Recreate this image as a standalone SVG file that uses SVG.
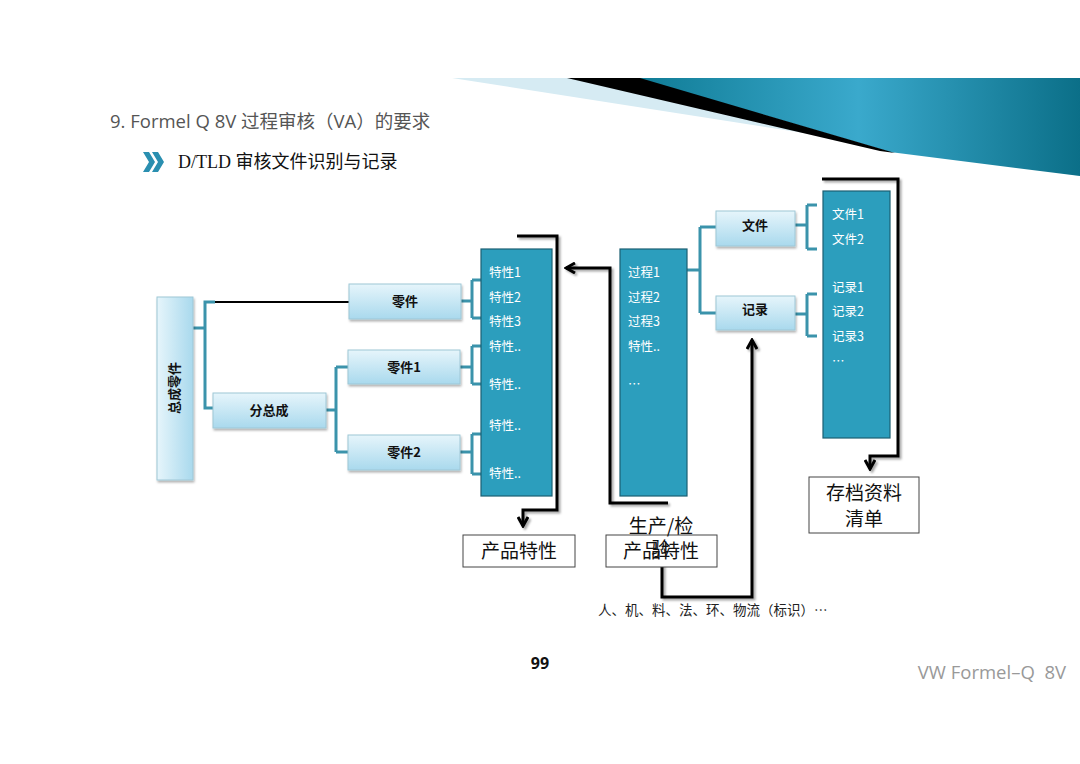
<svg xmlns="http://www.w3.org/2000/svg" width="1080" height="764" viewBox="0 0 1080 764">
<defs>
<linearGradient id="lb" x1="0" y1="0" x2="0" y2="1"><stop offset="0" stop-color="#e6f5fb"/><stop offset="1" stop-color="#a9d9ed"/></linearGradient>
<linearGradient id="lbh" x1="0" y1="0" x2="1" y2="0"><stop offset="0" stop-color="#e6f5fb"/><stop offset="1" stop-color="#a9d9ed"/></linearGradient>
<linearGradient id="teal" x1="0" y1="0" x2="1" y2="0"><stop offset="0" stop-color="#0f7b95"/><stop offset="0.5" stop-color="#3aa9cc"/><stop offset="1" stop-color="#0b6f88"/></linearGradient>
<marker id="ah" viewBox="0 0 12 12" refX="10" refY="6" markerWidth="12" markerHeight="12" markerUnits="userSpaceOnUse" orient="auto">
<path d="M1,1 L10,6 L1,11" fill="none" stroke="#000" stroke-width="3"/>
</marker>
<filter id="sh" x="-10%" y="-10%" width="130%" height="140%"><feDropShadow dx="1" dy="2" stdDeviation="1.2" flood-color="#000" flood-opacity="0.3"/></filter>
<filter id="lsh" x="-10%" y="-10%" width="130%" height="130%"><feDropShadow dx="2" dy="2" stdDeviation="0.8" flood-color="#000" flood-opacity="0.35"/></filter>
</defs>
<style>
.cn{font-family:"Noto Sans CJK SC",sans-serif}
.bx{fill:url(#lb);stroke:#9ec7d6;stroke-width:1;filter:url(#sh)}
.bt{font-family:"Noto Sans CJK SC",sans-serif;font-size:13px;font-weight:bold;fill:#111;text-anchor:middle}
.col{fill:#2c9ebd;stroke:#1c5f72;stroke-width:1.2}
.ct{font-family:"Noto Sans CJK SC",sans-serif;font-size:12.5px;fill:#fff}
.tc{fill:none;stroke:#3b93ab;stroke-width:3}
.bk{fill:none;stroke:#000;stroke-width:3;filter:url(#lsh)}
.ob{fill:#fff;stroke:#444;stroke-width:1}
.ot{font-family:"Noto Sans CJK SC",sans-serif;font-size:19px;fill:#111;text-anchor:middle}
</style>
<rect width="1080" height="764" fill="#fff"/>
<g id="banner">
<polygon points="452,78 1080,78 1080,176" fill="#d6ebf3"/>
<polygon points="637,78 1080,78 1080,176 890,152" fill="url(#teal)"/>
<polygon points="567,78 640,78 895,153 880,151" fill="#000"/>
</g>
<text x="110" y="128" font-family="Open Sans, Noto Sans CJK SC, sans-serif" font-size="18.5" fill="#555">9. Formel Q 8V 过程审核（VA）的要求</text>
<g id="bullet" fill="#2a8fb0">
<polygon points="143,152 149,152 155,162 149,172 143,172 149,162"/>
<polygon points="152,152 158,152 164,162 158,172 152,172 158,162"/>
</g>
<text x="178" y="168" font-family="Liberation Serif, Noto Sans CJK SC, serif" font-size="18" fill="#111">D/TLD 审核文件识别与记录</text>

<g id="connectors">
<path class="tc" d="M193,328 H205 V302 H215 M205,328 V408 H213"/>
<path d="M215,302 H349" stroke="#000" stroke-width="2" fill="none"/>
<path class="tc" d="M326,410 H336 M336,367 V452 M336,367 H348 M336,452 H348"/>
<path class="tc" d="M461,301 H472 M472,280 V318 M472,280 H481 M472,318 H481"/>
<path class="tc" d="M460,367 H472 M472,346 V384 M472,346 H481 M472,384 H481"/>
<path class="tc" d="M460,452 H472 M472,434 V474 M472,434 H481 M472,474 H481"/>
<path class="tc" d="M687,270 H700 M700,227 V313 M700,227 H716 M700,313 H716"/>
<path class="tc" d="M795,225 H807 M807,205 V249 M807,205 H817 M807,249 H817"/>
<path class="tc" d="M795,314 H807 M807,294 V336 M807,294 H817 M807,336 H817"/>
<path class="bk" d="M517,236 H557 V510 H523 V526" marker-end="url(#ah)"/>
<path class="bk" d="M668,503 H610 V268 H566" marker-end="url(#ah)"/>
<path class="bk" d="M662,562 V597 H752 V340" marker-end="url(#ah)"/>
<path class="bk" d="M822,179 H898 V456 H870 V469" marker-end="url(#ah)"/>
</g>

<g id="n-zongcheng">
<rect x="157" y="297" width="36" height="183" fill="url(#lbh)" stroke="#9ec7d6" filter="url(#sh)"/>
<text class="bt" transform="translate(179,388) rotate(-90)">总成零件</text>
</g>
<g id="n-fenzongcheng"><rect class="bx" x="213" y="393" width="113" height="35"/><text class="bt" x="269" y="415">分总成</text></g>
<g id="n-lingjian"><rect class="bx" x="349" y="284" width="112" height="35"/><text class="bt" x="405" y="306">零件</text></g>
<g id="n-lingjian1"><rect class="bx" x="348" y="350" width="112" height="34"/><text class="bt" x="404" y="372">零件1</text></g>
<g id="n-lingjian2"><rect class="bx" x="348" y="435" width="112" height="35"/><text class="bt" x="404" y="457">零件2</text></g>
<g id="n-texing">
<rect class="col" x="481" y="249" width="71" height="247"/>
<text class="ct" x="489" y="277">特性1</text>
<text class="ct" x="489" y="302">特性2</text>
<text class="ct" x="489" y="326">特性3</text>
<text class="ct" x="489" y="351">特性..</text>
<text class="ct" x="489" y="389">特性..</text>
<text class="ct" x="489" y="430">特性..</text>
<text class="ct" x="489" y="478">特性..</text>
</g>
<g id="n-guocheng">
<rect class="col" x="620" y="249" width="67" height="247"/>
<text class="ct" x="628" y="277">过程1</text>
<text class="ct" x="628" y="302">过程2</text>
<text class="ct" x="628" y="326">过程3</text>
<text class="ct" x="628" y="351">特性..</text>
<text class="ct" x="628" y="389">…</text>
</g>
<g id="n-wenjian"><rect class="bx" x="716" y="211" width="79" height="35"/><text class="bt" x="755" y="230">文件</text></g>
<g id="n-jilu"><rect class="bx" x="716" y="296" width="79" height="34"/><text class="bt" x="755" y="314">记录</text></g>
<g id="n-ziliao">
<rect class="col" x="823" y="191" width="67" height="247"/>
<text class="ct" x="832" y="219">文件1</text>
<text class="ct" x="832" y="244">文件2</text>
<text class="ct" x="832" y="292">记录1</text>
<text class="ct" x="832" y="316">记录2</text>
<text class="ct" x="832" y="341">记录3</text>
<text class="ct" x="832" y="366">…</text>
</g>
<g id="n-chanpin1"><rect class="ob" x="463" y="535" width="112" height="32"/><text class="ot" x="519" y="558">产品特性</text></g>
<g id="n-chanpin2"><rect class="ob" x="606" y="535" width="111" height="32"/><text class="ot" x="661" y="558">产品特性</text>
<text class="ot" x="661" y="533">生产/检</text><text class="ot" x="661" y="556">验</text></g>
<g id="n-cundang"><rect class="ob" x="809" y="477" width="110" height="56"/><text class="ot" x="864" y="500" font-size="18">存档资料</text><text class="ot" x="864" y="526" font-size="18">清单</text></g>
<text class="cn" x="598" y="615" font-size="13.5" fill="#222">人、机、料、法、环、物流（标识）…</text>
<text x="540" y="669" text-anchor="middle" font-family="Open Sans, sans-serif" font-weight="bold" font-size="16" fill="#111">99</text>
<text x="1066" y="679" text-anchor="end" font-family="Open Sans, sans-serif" font-size="18.5" fill="#999" xml:space="preserve">VW Formel–Q  8V</text>
</svg>
